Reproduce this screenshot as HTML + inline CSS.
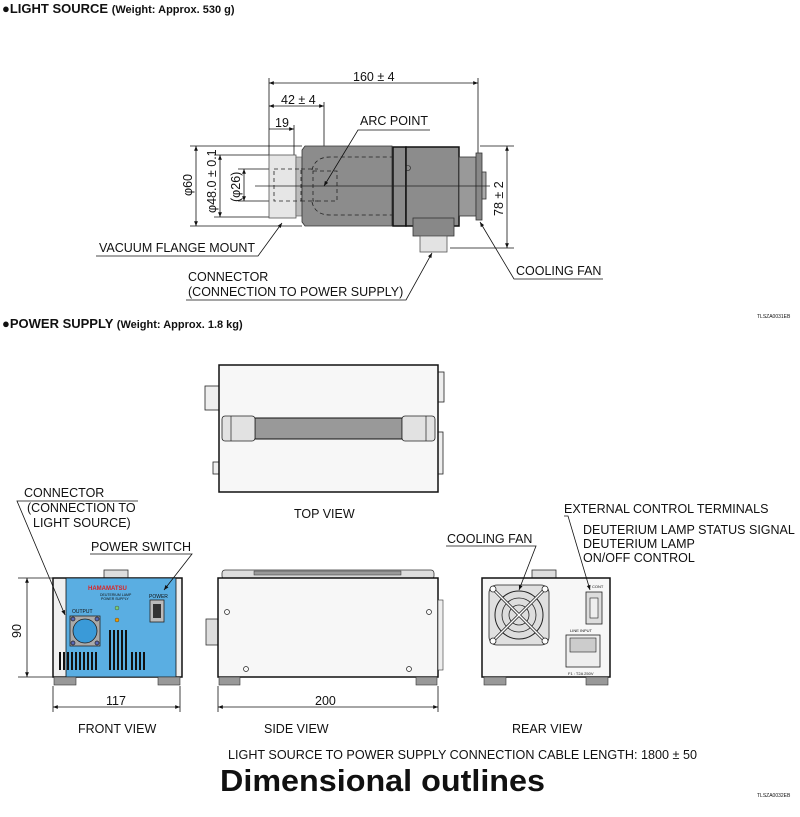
<!DOCTYPE html>
<html><head><meta charset="utf-8"><style>
html,body{margin:0;padding:0;background:#fff}
svg{display:block}
text{font-family:"Liberation Sans",Arial,sans-serif;fill:#111}
</style></head><body>
<svg width="800" height="817" viewBox="0 0 800 817" xmlns="http://www.w3.org/2000/svg">
<defs>
<marker id="a" viewBox="0 0 10 10" refX="10" refY="5" markerWidth="8" markerHeight="6" orient="auto-start-reverse"><path d="M0,1 L10,5 L0,9z" fill="#111"/></marker>
</defs>
<g font-size="12.5">
<text x="2" y="13" font-weight="bold" font-size="13">●LIGHT SOURCE <tspan font-size="11">(Weight: Approx. 530 g)</tspan></text>
<text x="2" y="328" font-weight="bold" font-size="13">●POWER SUPPLY <tspan font-size="11">(Weight: Approx. 1.8 kg)</tspan></text>
<text x="757" y="318" font-size="5">TLSZA0031EB</text>
<text x="757" y="797" font-size="5">TLSZA0032EB</text>

<g stroke="#111" stroke-width="0.8" fill="none">
<line x1="269" y1="78" x2="269" y2="155"/>
<line x1="478" y1="78" x2="478" y2="153"/>
<line x1="324" y1="102" x2="324" y2="186"/>
<line x1="294" y1="125" x2="294" y2="155"/>
<line x1="269" y1="83" x2="478" y2="83" marker-start="url(#a)" marker-end="url(#a)"/>
<line x1="269" y1="106" x2="324" y2="106" marker-start="url(#a)" marker-end="url(#a)"/>
<line x1="269" y1="129" x2="294" y2="129" marker-end="url(#a)"/>
<line x1="190" y1="146" x2="302" y2="146"/>
<line x1="190" y1="226" x2="302" y2="226"/>
<line x1="214" y1="155" x2="269" y2="155"/>
<line x1="214" y1="217" x2="269" y2="217"/>
<line x1="238" y1="169" x2="269" y2="169"/>
<line x1="238" y1="201" x2="269" y2="201"/>
<line x1="196" y1="146" x2="196" y2="226" marker-start="url(#a)" marker-end="url(#a)"/>
<line x1="220" y1="155" x2="220" y2="217" marker-start="url(#a)" marker-end="url(#a)"/>
<line x1="244" y1="169" x2="244" y2="201" marker-start="url(#a)" marker-end="url(#a)"/>
<line x1="480" y1="146" x2="514" y2="146"/>
<line x1="450" y1="248" x2="514" y2="248"/>
<line x1="507" y1="146" x2="507" y2="248" marker-start="url(#a)" marker-end="url(#a)"/>
</g>
<text x="353" y="81">160 ± 4</text>
<text x="281" y="104">42 ± 4</text>
<text x="275" y="127">19</text>
<text transform="translate(192,196) rotate(-90)">φ60</text>
<text transform="translate(216,213) rotate(-90)">φ48.0 ± 0.1</text>
<text transform="translate(240,202) rotate(-90)">(φ26)</text>
<text transform="translate(503,216) rotate(-90)">78 ± 2</text>
<rect x="269" y="155" width="27" height="63" fill="#e6e6e6" stroke="#555" stroke-width="0.8"/>
<rect x="296" y="157" width="6" height="59" fill="#bbb" stroke="#555" stroke-width="0.6"/>
<path d="M305,146 L392,146 L392,226 L305,226 L302,222 L302,150z" fill="#8c8c8c" stroke="#333" stroke-width="0.8"/>
<rect x="393" y="147" width="13" height="79" fill="#8c8c8c" stroke="#111" stroke-width="1.5"/>
<rect x="406" y="147" width="53" height="79" fill="#8c8c8c" stroke="#111" stroke-width="1.5"/>
<rect x="459" y="157" width="17" height="59" fill="#999" stroke="#333" stroke-width="0.8"/>
<rect x="476" y="153" width="6" height="67" fill="#888" stroke="#333" stroke-width="0.8"/>
<rect x="482" y="172" width="4" height="27" fill="#aaa" stroke="#333" stroke-width="0.8"/>
<rect x="413" y="218" width="41" height="18" fill="#888" stroke="#333" stroke-width="0.8"/>
<rect x="420" y="236" width="27" height="16" fill="#e3e3e3" stroke="#555" stroke-width="0.8"/>
<g stroke="#222" stroke-width="0.8" fill="none" stroke-dasharray="4,3">
<rect x="274" y="169" width="27" height="32"/>
<path d="M301,169 L318,169 M301,201 L318,201 M312,170 Q315,157 330,157 L392,157 M312,202 Q315,215 330,215 L392,215"/>
<rect x="313" y="171" width="24" height="30"/>
</g>
<line x1="255" y1="186" x2="490" y2="186" stroke="#222" stroke-width="0.7"/>
<circle cx="408" cy="168" r="2.5" fill="none" stroke="#222" stroke-width="0.6"/>
<g stroke="#111" stroke-width="0.8" fill="none">
<polyline points="430,130 358,130 324,186" marker-end="url(#a)"/>
<polyline points="96,256 258,256 282,223" marker-end="url(#a)"/>
<polyline points="186,300 406,300 432,253" marker-end="url(#a)"/>
<polyline points="603,279 514,279 480,222" marker-end="url(#a)"/>
</g>
<text x="360" y="125">ARC POINT</text>
<text x="99" y="252">VACUUM FLANGE MOUNT</text>
<text x="188" y="281">CONNECTOR</text>
<text x="188" y="296">(CONNECTION TO POWER SUPPLY)</text>
<text x="516" y="275">COOLING FAN</text>

<rect x="205" y="386" width="14" height="24" fill="#eee" stroke="#222" stroke-width="0.8"/>
<rect x="213" y="462" width="6" height="12" fill="#eee" stroke="#222" stroke-width="0.8"/>
<rect x="438" y="372" width="6" height="30" fill="#eee" stroke="#222" stroke-width="0.8"/>
<rect x="438" y="432" width="5" height="42" fill="#eee" stroke="#222" stroke-width="0.8"/>
<rect x="219" y="365" width="219" height="127" fill="#f7f7f7" stroke="#111" stroke-width="1.5"/>
<rect x="255" y="418" width="147" height="21" fill="#999" stroke="#111" stroke-width="1"/>
<rect x="222" y="416" width="33" height="25" rx="3" fill="#e2e2e2" stroke="#222" stroke-width="0.8"/>
<line x1="231" y1="416" x2="231" y2="441" stroke="#222" stroke-width="0.7"/>
<rect x="402" y="416" width="33" height="25" rx="3" fill="#e2e2e2" stroke="#222" stroke-width="0.8"/>
<line x1="426" y1="416" x2="426" y2="441" stroke="#222" stroke-width="0.7"/>
<text x="294" y="518">TOP VIEW</text>

<rect x="104" y="570" width="24" height="8" fill="#ddd" stroke="#333" stroke-width="0.8"/>
<rect x="53" y="578" width="129" height="99" fill="#f0f0f0" stroke="#111" stroke-width="1.5"/>
<rect x="66" y="578" width="110" height="99" fill="#5aaee2" stroke="#111" stroke-width="0.8"/>
<rect x="54" y="677" width="22" height="8" fill="#999" stroke="#333" stroke-width="0.6"/>
<rect x="158" y="677" width="22" height="8" fill="#999" stroke="#333" stroke-width="0.6"/>
<text x="88" y="590" font-size="6" font-weight="bold" style="fill:#d22">HAMAMATSU</text>
<text x="100" y="596" font-size="3.5">DEUTERIUM LAMP</text>
<text x="101" y="600" font-size="3.5">POWER SUPPLY</text>
<text x="72" y="613" font-size="5">OUTPUT</text>
<text x="149" y="598" font-size="5">POWER</text>
<rect x="150" y="600" width="14" height="22" fill="#bbb" stroke="#222" stroke-width="0.8"/>
<rect x="153" y="604" width="8" height="14" fill="#333"/>
<circle cx="117" cy="608" r="2" fill="#7c7" stroke="#333" stroke-width="0.4"/>
<circle cx="117" cy="620" r="2" fill="#e90" stroke="#333" stroke-width="0.4"/>
<rect x="70" y="616" width="30" height="30" fill="#aaa" stroke="#222" stroke-width="0.8"/>
<circle cx="85" cy="631" r="12" fill="#3a9ad8" stroke="#222" stroke-width="0.8"/>
<g fill="#5a6ab8" stroke="#222" stroke-width="0.7">
<circle cx="73" cy="619" r="2"/><circle cx="97" cy="619" r="2"/><circle cx="73" cy="643" r="2"/><circle cx="97" cy="643" r="2"/></g>
<g fill="#111">
<rect x="59" y="652" width="2" height="18"/><rect x="63" y="652" width="2" height="18"/><rect x="67" y="652" width="2" height="18"/><rect x="71" y="652" width="2" height="18"/><rect x="75" y="652" width="2" height="18"/><rect x="79" y="652" width="2" height="18"/><rect x="83" y="652" width="2" height="18"/><rect x="87" y="652" width="2" height="18"/><rect x="91" y="652" width="2" height="18"/><rect x="95" y="652" width="2" height="18"/>
<rect x="109" y="630" width="2" height="40"/><rect x="113" y="630" width="2" height="40"/><rect x="117" y="630" width="2" height="40"/><rect x="121" y="630" width="2" height="40"/><rect x="125" y="630" width="2" height="40"/>
<rect x="131" y="652" width="2" height="18"/><rect x="135" y="652" width="2" height="18"/><rect x="139" y="652" width="2" height="18"/><rect x="143" y="652" width="2" height="18"/>
</g>
<g stroke="#111" stroke-width="0.8" fill="none">
<line x1="18" y1="578" x2="53" y2="578"/>
<line x1="18" y1="677" x2="53" y2="677"/>
<line x1="27" y1="578" x2="27" y2="677" marker-start="url(#a)" marker-end="url(#a)"/>
<line x1="53" y1="686" x2="53" y2="712"/>
<line x1="180" y1="686" x2="180" y2="712"/>
<line x1="53" y1="707" x2="180" y2="707" marker-start="url(#a)" marker-end="url(#a)"/>
<line x1="218" y1="686" x2="218" y2="712"/>
<line x1="438" y1="686" x2="438" y2="712"/>
<line x1="218" y1="707" x2="438" y2="707" marker-start="url(#a)" marker-end="url(#a)"/>
<polyline points="138,501 17,501 65,615" marker-end="url(#a)"/>
<polyline points="90,554 192,554 164,590" marker-end="url(#a)"/>
</g>
<text transform="translate(21,638) rotate(-90)">90</text>
<text x="106" y="705">117</text>
<text x="315" y="705">200</text>
<text x="24" y="497">CONNECTOR</text>
<text x="27" y="512">(CONNECTION TO</text>
<text x="33" y="527">LIGHT SOURCE)</text>
<text x="91" y="551">POWER SWITCH</text>

<rect x="222" y="570" width="212" height="9" rx="3" fill="#ddd" stroke="#333" stroke-width="0.8"/>
<rect x="254" y="571" width="147" height="4" fill="#999" stroke="#333" stroke-width="0.5"/>
<rect x="206" y="619" width="12" height="26" fill="#ddd" stroke="#333" stroke-width="0.8"/>
<rect x="218" y="578" width="220" height="99" fill="#f7f7f7" stroke="#111" stroke-width="1.5"/>
<rect x="438" y="600" width="5" height="70" fill="#eee" stroke="#333" stroke-width="0.6"/>
<rect x="219" y="677" width="21" height="8" fill="#999" stroke="#333" stroke-width="0.6"/>
<rect x="416" y="677" width="21" height="8" fill="#999" stroke="#333" stroke-width="0.6"/>
<g fill="none" stroke="#222" stroke-width="0.7"><circle cx="227" cy="612" r="2.5"/><circle cx="429" cy="612" r="2.5"/><circle cx="246" cy="669" r="2.5"/><circle cx="409" cy="669" r="2.5"/></g>
<text x="264" y="733">SIDE VIEW</text>

<rect x="532" y="570" width="24" height="8" fill="#ddd" stroke="#333" stroke-width="0.8"/>
<rect x="482" y="578" width="128" height="99" fill="#f7f7f7" stroke="#111" stroke-width="1.5"/>
<rect x="484" y="677" width="22" height="8" fill="#999" stroke="#333" stroke-width="0.6"/>
<rect x="586" y="677" width="22" height="8" fill="#999" stroke="#333" stroke-width="0.6"/>
<rect x="489" y="585" width="60" height="60" rx="8" fill="#e0e0e0" stroke="#222" stroke-width="0.8"/>
<circle cx="519" cy="615" r="24" fill="#ddd" stroke="#222" stroke-width="1"/>
<circle cx="519" cy="615" r="17" fill="none" stroke="#222" stroke-width="0.8"/>
<circle cx="519" cy="615" r="10" fill="none" stroke="#222" stroke-width="0.8"/>
<g stroke="#222" stroke-width="3"><line x1="495" y1="591" x2="543" y2="639"/><line x1="543" y1="591" x2="495" y2="639"/></g>
<g stroke="#fff" stroke-width="1.5"><line x1="495" y1="591" x2="543" y2="639"/><line x1="543" y1="591" x2="495" y2="639"/></g>
<g fill="#fff" stroke="#222" stroke-width="0.8"><circle cx="493" cy="589" r="3"/><circle cx="545" cy="589" r="3"/><circle cx="493" cy="641" r="3"/><circle cx="545" cy="641" r="3"/></g>
<text x="592" y="588" font-size="4">CONT</text>
<rect x="586" y="592" width="16" height="32" fill="#ddd" stroke="#222" stroke-width="0.8"/>
<rect x="590" y="598" width="8" height="20" fill="#eee" stroke="#222" stroke-width="0.6"/>
<text x="570" y="632" font-size="4">LINE INPUT</text>
<rect x="566" y="635" width="34" height="32" fill="#eee" stroke="#222" stroke-width="0.8"/>
<rect x="570" y="638" width="26" height="14" fill="#ccc" stroke="#222" stroke-width="0.6"/>
<text x="568" y="675" font-size="4">F1 : T2A 250V</text>
<g stroke="#111" stroke-width="0.8" fill="none">
<polyline points="446,546 536,546 519,590" marker-end="url(#a)"/>
<polyline points="564,516 568,516 590,590" marker-end="url(#a)"/>
</g>
<text x="447" y="543">COOLING FAN</text>
<text x="564" y="513">EXTERNAL CONTROL TERMINALS</text>
<text x="583" y="534">DEUTERIUM LAMP STATUS SIGNAL</text>
<text x="583" y="548">DEUTERIUM LAMP</text>
<text x="583" y="562">ON/OFF CONTROL</text>
<text x="512" y="733">REAR VIEW</text>
<text x="78" y="733">FRONT VIEW</text>

<text x="228" y="759" textLength="469" lengthAdjust="spacingAndGlyphs">LIGHT SOURCE TO POWER SUPPLY CONNECTION CABLE LENGTH: 1800 ± 50</text>
<text x="220" y="791" font-size="31" font-weight="bold" textLength="325" lengthAdjust="spacingAndGlyphs">Dimensional outlines</text>
</g>
</svg>
</body></html>
